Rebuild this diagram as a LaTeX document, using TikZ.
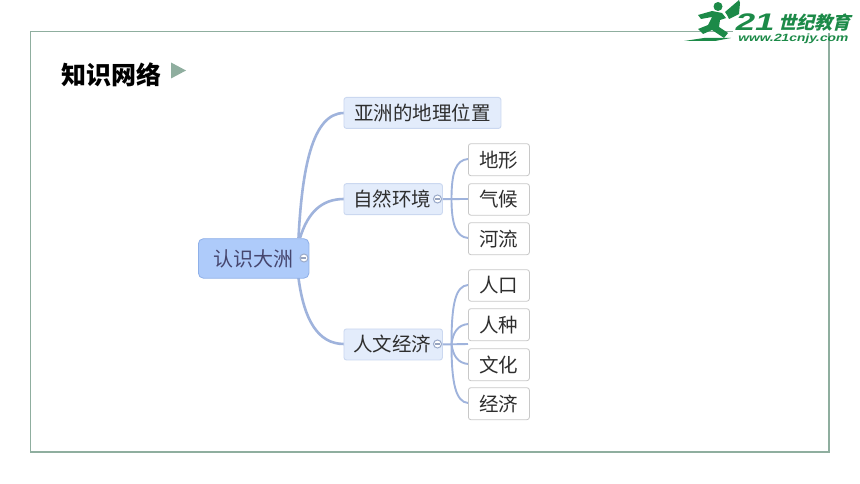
\documentclass[tikz,border=0pt]{standalone}
\usepackage{fontspec}
\setmainfont{Liberation Sans}
\newfontfamily\cjk{Noto Sans CJK SC}
\newcommand{\lowered}[1]{\raisebox{-1.2pt}{#1}}
\definecolor{framec}{HTML}{8FAE9F}
\definecolor{linkc}{HTML}{9FB3DC}
\definecolor{rootfill}{HTML}{AECBFA}
\definecolor{rootline}{HTML}{8FB0E8}
\definecolor{midfill}{HTML}{E3ECFB}
\definecolor{midline}{HTML}{CBD8F0}
\definecolor{leafline}{HTML}{C8C8C8}
\definecolor{inkc}{HTML}{2E2E2E}
\definecolor{logoc}{HTML}{1C8A48}
\tikzset{
  x=1pt,y=-1pt,
  box/.style={rounded corners=2.5pt,inner sep=0pt,anchor=north west,align=center,font=\cjk\fontsize{19.5}{22}\selectfont,text=inkc},
  rootbox/.style={box,fill=rootfill,draw=rootline,line width=.8pt,rounded corners=5pt,text=black!65!blue!45!gray},
  midbox/.style={box,fill=midfill,draw=midline,line width=.9pt},
  leafbox/.style={box,fill=white,draw=leafline,line width=.8pt},
  link/.style={draw=linkc,line width=2.6pt},
  sublink/.style={draw=linkc,line width=1.9pt},
  toggle/.style={circle,minimum size=8pt,inner sep=0pt,fill=white,draw=linkc!80!gray,line width=1pt},
  toggledash/.style={draw=linkc!70!gray,line width=1.6pt},
  logotext/.style={text=logoc,inner sep=0pt,anchor=west,xslant=.25,transform shape}
}
\begin{document}
\begin{tikzpicture}
\useasboundingbox (0,0) rectangle (860,484);
\fill[white] (0,0) rectangle (860,484);
\draw[framec,line width=1.2pt] (30.5,31.5) rectangle (829,452);
% logo
\fill[white] (733,0) rectangle (860,33);
\fill[logoc] (718,6.5) circle (4.5);
\fill[logoc] (725,12) -- (739,0) -- (740,3) -- (739,14) -- (729,19) -- (727,15) -- cycle;
\fill[logoc] (698,15) -- (712,11) -- (722,13) -- (726,18) -- (720,20) -- (719,27) -- (728,33) -- (724,38) -- (712,30) -- (703,34) -- (698,29) -- (708,25) -- (712,17) -- (701,19) -- cycle;
\fill[logoc] (684,41) -- (704,38) -- (731,38) -- (715,41) -- cycle;
\node[logotext,xscale=1.45] (logoa) at (736,22) {\fontsize{24}{25}\selectfont\bfseries 21};
\node[logotext] (logob) at (780,22.5) {\cjk\fontsize{18}{18}\selectfont\bfseries 世纪教育};
\node[logotext,xscale=1.32] (logoc) at (738,38.5) {\fontsize{10.5}{11}\selectfont\bfseries www.21cnjy.com};
% title
\node[inner sep=0pt,anchor=west,font=\cjk\bfseries\fontsize{25}{28}\selectfont,text=black] (title) at (61,75) {知识网络};
\fill[framec] (171,62.5) -- (186,70.5) -- (171,78.5) -- cycle;
% coordinates for connector ends
\coordinate (ra) at (298.5,238);
\coordinate (rb) at (300,238);
\coordinate (rc) at (298.5,278);
% connectors
\draw[link] (ra) .. controls (302,170) and (312,113) .. (344,113);
\draw[link] (rb) .. controls (308,212) and (322,199) .. (344,199);
\draw[link] (rc) .. controls (304,320) and (318,344) .. (344,344);
% nodes
\node[rootbox,minimum width=110.5pt,minimum height=39.5pt] (root) at (198,238.3) {\lowered{\fontsize{20}{22}\selectfont 认识大洲}};
\node[midbox,minimum width=157pt,minimum height=31pt] (m1) at (343.5,97) {亚洲的地理位置};
\node[midbox,minimum width=98.5pt,minimum height=31pt] (m2) at (343.5,183.2) {\lowered{自然环境}\kern2pt};
\node[midbox,minimum width=98.5pt,minimum height=31pt] (m3) at (343.5,328.5) {\lowered{人文经济}\kern2pt};
\draw[sublink] (m2.east) -- (468,199);
\draw[sublink] (m3.east) -- (468,344);
\draw[sublink] (468,159) .. controls (456,160) and (451.5,172) .. (451.5,199) .. controls (451.5,224) and (456,237) .. (468,238);
\draw[sublink] (468,285) .. controls (456,286) and (451.5,302) .. (451.5,344) .. controls (451.5,384) and (456,402) .. (468,403);
\draw[sublink] (468,324) .. controls (458,325) and (453,332) .. (451.5,344);
\draw[sublink] (468,364) .. controls (458,363) and (453,356) .. (451.5,344);
\node[leafbox,minimum width=61pt,minimum height=32pt] (a1) at (468,143.3) {\lowered{地形}};
\node[leafbox,minimum width=61pt,minimum height=31.5pt] (a2) at (468,183.3) {气候};
\node[leafbox,minimum width=61pt,minimum height=32pt] (a3) at (468,222.3) {河流};
\node[leafbox,minimum width=61pt,minimum height=31.5pt] (b1) at (468,269.3) {\lowered{人口}};
\node[leafbox,minimum width=61pt,minimum height=32pt] (b2) at (468,308.3) {\lowered{人种}};
\node[leafbox,minimum width=61pt,minimum height=32pt] (b3) at (468,348.3) {文化};
\node[leafbox,minimum width=61pt,minimum height=32pt] (b4) at (468,387.3) {\lowered{经济}};
% toggles
\node[toggle] (t0) at (304,258) {};
\node[toggle] (t1) at (437.5,199) {};
\node[toggle] (t2) at (437.5,344) {};
\draw[toggledash] (t0.west) ++(1.5,0) -- ++(5,0);
\draw[toggledash] (t1.west) ++(1.5,0) -- ++(5,0);
\draw[toggledash] (t2.west) ++(1.5,0) -- ++(5,0);
\end{tikzpicture}
\end{document}
